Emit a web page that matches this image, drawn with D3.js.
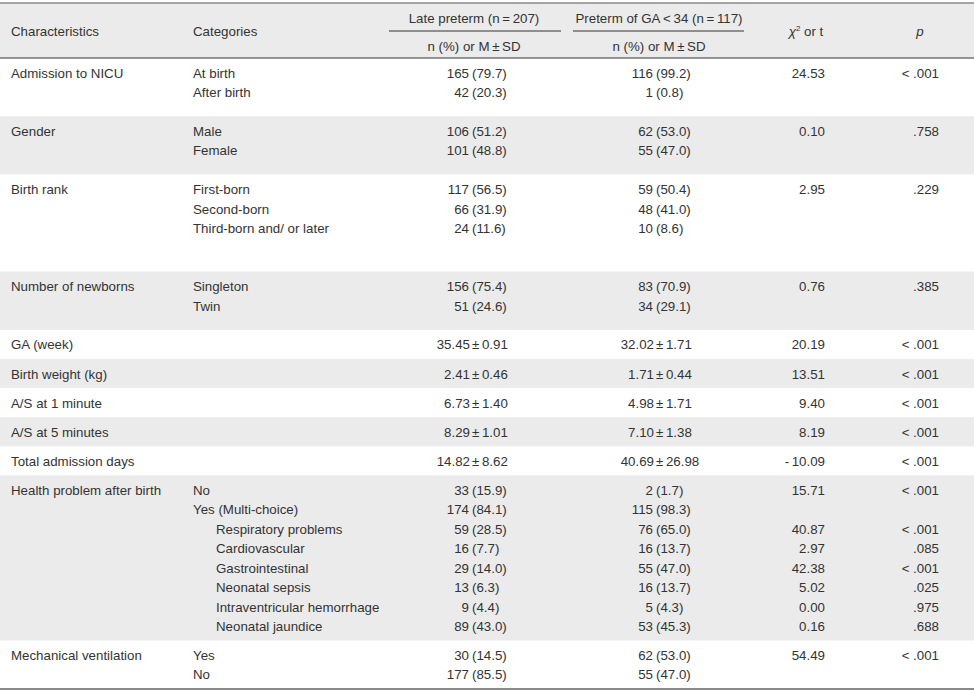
<!DOCTYPE html>
<html>
<head>
<meta charset="utf-8">
<script src="https://cdn.jsdelivr.net/npm/d3@7"></script>
<style>
  body { margin: 0; background: #fff; }
  text { font-family: "Liberation Sans", Arial, sans-serif; font-size: 13.3px; fill: #333; }
</style>
</head>
<body>
<div id="table"></div>
<script>
// Table values, one entry per characteristic
var characteristics = ["Admission to NICU", "Gender", "Birth rank", "Number of newborns", "GA (week)",
  "Birth weight (kg)", "A/S at 1 minute", "A/S at 5 minutes", "Total admission days",
  "Health problem after birth", "Mechanical ventilation"];

var categories = [["At birth", "After birth"], ["Male", "Female"],
  ["First-born", "Second-born", "Third-born and/ or later"], ["Singleton", "Twin"],
  [""], [""], [""], [""], [""],
  ["No", "Yes (Multi-choice)", "Respiratory problems", "Cardiovascular", "Gastrointestinal",
    "Neonatal sepsis", "Intraventricular hemorrhage", "Neonatal jaundice"],
  ["Yes", "No"]];

// 1 = sub item of "Yes (Multi-choice)"
var categoryLevel = [[0, 0], [0, 0], [0, 0, 0], [0, 0], [0], [0], [0], [0], [0],
  [0, 0, 1, 1, 1, 1, 1, 1], [0, 0]];

var latePreterm = [["165 (79.7)", "42 (20.3)"], ["106 (51.2)", "101 (48.8)"],
  ["117 (56.5)", "66 (31.9)", "24 (11.6)"], ["156 (75.4)", "51 (24.6)"],
  ["35.45 ± 0.91"], ["2.41 ± 0.46"], ["6.73 ± 1.40"], ["8.29 ± 1.01"], ["14.82 ± 8.62"],
  ["33 (15.9)", "174 (84.1)", "59 (28.5)", "16 (7.7)", "29 (14.0)", "13 (6.3)", "9 (4.4)", "89 (43.0)"],
  ["30 (14.5)", "177 (85.5)"]];

var pretermGA34 = [["116 (99.2)", "1 (0.8)"], ["62 (53.0)", "55 (47.0)"],
  ["59 (50.4)", "48 (41.0)", "10 (8.6)"], ["83 (70.9)", "34 (29.1)"],
  ["32.02 ± 1.71"], ["1.71 ± 0.44"], ["4.98 ± 1.71"], ["7.10 ± 1.38"], ["40.69 ± 26.98"],
  ["2 (1.7)", "115 (98.3)", "76 (65.0)", "16 (13.7)", "55 (47.0)", "16 (13.7)", "5 (4.3)", "53 (45.3)"],
  ["62 (53.0)", "55 (47.0)"]];

var chiOrT = [["24.53"], ["0.10"], ["2.95"], ["0.76"], ["20.19"], ["13.51"], ["9.40"], ["8.19"], ["-10.09"],
  ["15.71", "", "40.87", "2.97", "42.38", "5.02", "0.00", "0.16"], ["54.49"]];

var pValues = [["<.001"], [".758"], [".229"], [".385"], ["<.001"], ["<.001"], ["<.001"], ["<.001"], ["<.001"],
  ["<.001", "", "<.001", ".085", "<.001", ".025", ".975", ".688"], ["<.001"]];

var groupHeaders = ["Late preterm (n\u2009=\u2009207)", "Preterm of GA\u2009<\u200934 (n\u2009=\u2009117)"];
var subHeader = "n (%) or M\u2009±\u2009SD";

// Layout
var svgWidth = 974;
var svgHeight = 693;
var headerTop = 3;
var headerBottom = 58;
var tableBottom = 689;
var bandColor = "#ebebeb";

// height of each group in text-line slots (includes blank space under the lines)
var groupSlots = [3, 3, 5, 3, 1.5, 1.5, 1.5, 1.5, 1.5, 8.5, 2.5];
var slotStart = [];
groupSlots.reduce(function(acc, s) { slotStart.push(acc); return acc + s; }, 0);

var yScale = d3.scaleLinear()
  .domain([0, d3.sum(groupSlots)])
  .range([headerBottom, tableBottom]);

var xScale = d3.scaleOrdinal()
  .domain(["char", "cat", "late", "preterm", "chi", "p"])
  .range([11, 193, 469, 653, 825, 939]);

var indent = 23;

var svg = d3.select("#table")
  .append("svg")
  .attr("width", svgWidth)
  .attr("height", svgHeight);

// header band
svg.append("rect")
  .attr("x", 0).attr("y", headerTop)
  .attr("width", svgWidth).attr("height", headerBottom - headerTop)
  .attr("fill", bandColor);

// alternating bands for the body
svg.selectAll("rect.band")
  .data(d3.range(characteristics.length).filter(function(i) { return i % 2 === 1; }))
  .enter()
  .append("rect")
  .attr("class", "band")
  .attr("x", 0)
  .attr("y", function(i) { return yScale(slotStart[i]); })
  .attr("width", svgWidth)
  .attr("height", function(i) { return yScale(slotStart[i] + groupSlots[i]) - yScale(slotStart[i]); })
  .attr("fill", bandColor);

// rules
svg.append("line")
  .attr("x1", 0).attr("x2", svgWidth)
  .attr("y1", headerTop).attr("y2", headerTop)
  .attr("stroke", "#8a8a8a").attr("stroke-width", 1.5);
svg.append("line")
  .attr("x1", 0).attr("x2", svgWidth)
  .attr("y1", headerBottom).attr("y2", headerBottom)
  .attr("stroke", "#333").attr("stroke-width", 1);
svg.append("line")
  .attr("x1", 0).attr("x2", svgWidth)
  .attr("y1", tableBottom).attr("y2", tableBottom)
  .attr("stroke", "#8a8a8a").attr("stroke-width", 2);

// header text
var headerMid = (headerTop + headerBottom) / 2 + 1;
var header = svg.append("g").attr("class", "header");

header.append("text").attr("x", xScale("char")).attr("y", headerMid).attr("dy", "0.35em").text("Characteristics");
header.append("text").attr("x", xScale("cat")).attr("y", headerMid).attr("dy", "0.35em").text("Categories");

var groupCenters = [474, 659];
var groupSpans = [[389, 561], [573, 744]];
groupHeaders.forEach(function(h, i) {
  header.append("text")
    .attr("x", groupCenters[i]).attr("y", 18).attr("dy", "0.35em")
    .attr("text-anchor", "middle")
    .text(h);
  header.append("line")
    .attr("x1", groupSpans[i][0]).attr("x2", groupSpans[i][1])
    .attr("y1", 31).attr("y2", 31)
    .attr("stroke", "#333").attr("stroke-width", 1);
  header.append("text")
    .attr("x", groupCenters[i]).attr("y", 46).attr("dy", "0.35em")
    .attr("text-anchor", "middle")
    .text(subHeader);
});

var chiLabel = header.append("text")
  .attr("x", 806).attr("y", headerMid).attr("dy", "0.35em")
  .attr("text-anchor", "middle");
chiLabel.append("tspan").attr("font-style", "italic").text("χ");
chiLabel.append("tspan").attr("font-size", "8px").attr("dy", "-5").text("2");
chiLabel.append("tspan").attr("dy", "5").text(" or t");

header.append("text")
  .attr("x", 920).attr("y", headerMid).attr("dy", "0.35em")
  .attr("text-anchor", "middle")
  .attr("font-style", "italic")
  .text("p");

// body text
function lineY(g, i) {
  return yScale(slotStart[g] + 0.77 + i);
}

var body = svg.append("g").attr("class", "body");

characteristics.forEach(function(name, g) {
  body.append("text")
    .attr("x", xScale("char")).attr("y", lineY(g, 0)).attr("dy", "0.35em")
    .text(name);

  categories[g].forEach(function(c, i) {
    if (!c) return;
    body.append("text")
      .attr("x", xScale("cat") + categoryLevel[g][i] * indent)
      .attr("y", lineY(g, i)).attr("dy", "0.35em")
      .text(c);
  });

  // value cells are aligned on the "(" or the "±"
  [["late", latePreterm], ["preterm", pretermGA34]].forEach(function(col) {
    col[1][g].forEach(function(v, i) {
      var cut = v.indexOf(" ");
      var left = v.slice(0, cut);
      var right = v.slice(cut + 1).replace("± ", "±\u2009");
      var isMean = right.charAt(0) === "±";
      body.append("text")
        .attr("x", xScale(col[0]) + (isMean ? 1 : 0)).attr("y", lineY(g, i)).attr("dy", "0.35em")
        .attr("text-anchor", "end")
        .text(left);
      body.append("text")
        .attr("x", xScale(col[0]) + 3).attr("y", lineY(g, i)).attr("dy", "0.35em")
        .text(right);
    });
  });

  chiOrT[g].forEach(function(v, i) {
    if (!v) return;
    body.append("text")
      .attr("x", xScale("chi")).attr("y", lineY(g, i)).attr("dy", "0.35em")
      .attr("text-anchor", "end")
      .text(v.replace("-", "-\u2009"));
  });

  pValues[g].forEach(function(v, i) {
    if (!v) return;
    body.append("text")
      .attr("x", xScale("p")).attr("y", lineY(g, i)).attr("dy", "0.35em")
      .attr("text-anchor", "end")
      .text(v.replace("<", "< "));
  });
});
</script>
</body>
</html>
